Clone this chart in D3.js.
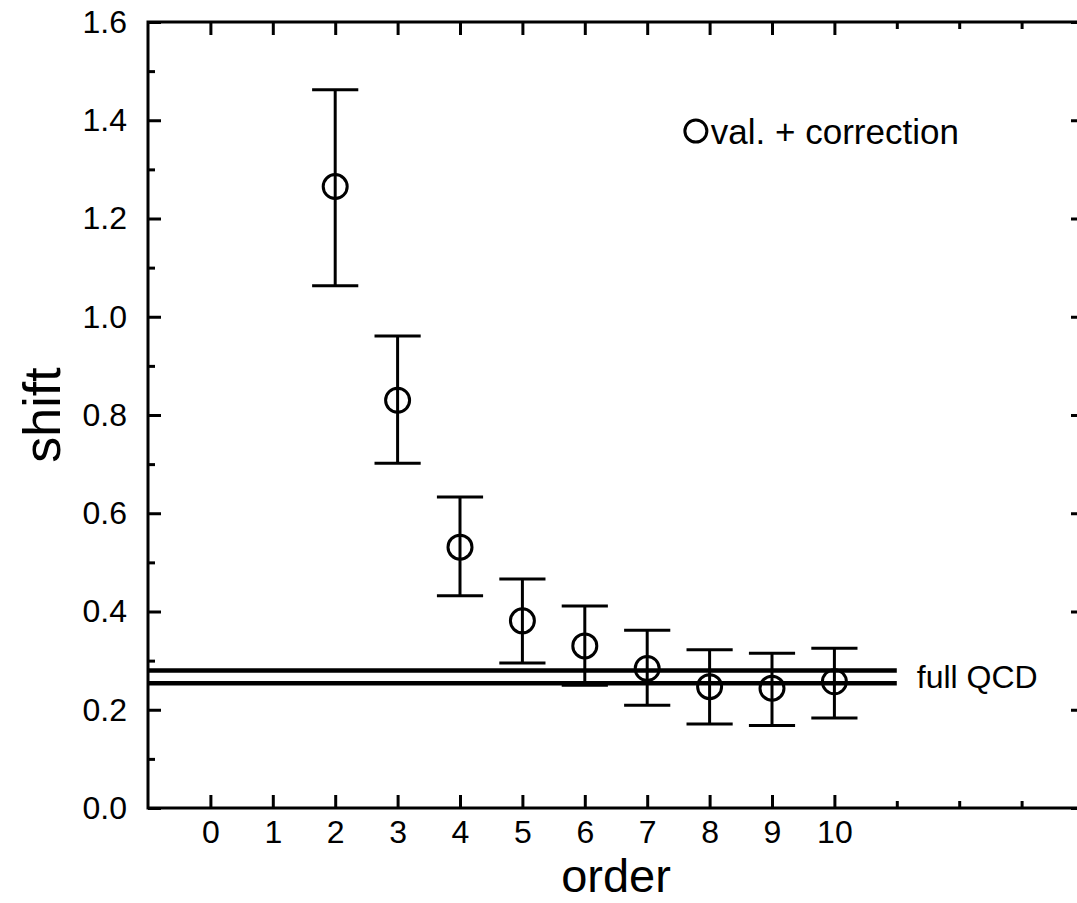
<!DOCTYPE html>
<html>
<head>
<meta charset="utf-8">
<script src="https://cdn.jsdelivr.net/npm/d3@7"></script>
<style>
body { margin: 0; background: white; }
text { font-family: "Liberation Sans", Arial, sans-serif; fill: black; }
</style>
</head>
<body>
<script>
const width = 1077
const height = 903
const margin = {top: 22, left: 148, bottom: 95, right: -7}

// data
const orders = [2, 3, 4, 5, 6, 7, 8, 9, 10]
const shift = [1.265, 0.830, 0.531, 0.381, 0.330, 0.284, 0.247, 0.244, 0.257]
const errLow = [1.063, 0.702, 0.432, 0.295, 0.250, 0.209, 0.171, 0.168, 0.183]
const errHigh = [1.462, 0.961, 0.633, 0.466, 0.411, 0.362, 0.322, 0.315, 0.325]
const qcdLines = [0.254, 0.280]
const qcdRange = [-1, 11]
const xMajor = d3.range(0, 11)
const xMinor = [11, 12, 13]
const yMajor = [0, 0.2, 0.4, 0.6, 0.8, 1.0, 1.2, 1.4, 1.6]
const yMinor = [0.1, 0.3, 0.5, 0.7, 0.9, 1.1, 1.3, 1.5]

const svg = d3.select("body").append("svg")
    .attr("width", width)
    .attr("height", height)

const x = d3.scaleLinear().domain([-1, 14]).range([margin.left, width - margin.right])
const y = d3.scaleLinear().domain([0, 1.6]).range([height - margin.bottom, margin.top])

const majorLen = 13
const minorLen = 7
const tickFont = 32

function styleAxis(g) {
    g.select(".domain").remove()
    g.selectAll("line").attr("stroke", "black").attr("stroke-width", 3)
    g.selectAll("text").attr("font-size", tickFont).attr("fill", "black")
        .attr("font-family", '"Liberation Sans", Arial, sans-serif')
}

// bottom
svg.append("g").attr("transform", `translate(0,${y(0)})`)
    .call(d3.axisBottom(x).tickValues(xMajor).tickSize(-majorLen).tickPadding(12).tickFormat(d3.format("d")))
    .call(styleAxis)
svg.append("g").attr("transform", `translate(0,${y(0)})`)
    .call(d3.axisBottom(x).tickValues(xMinor).tickSize(-minorLen).tickFormat(""))
    .call(styleAxis)
// top
svg.append("g").attr("transform", `translate(0,${y(1.6)})`)
    .call(d3.axisTop(x).tickValues(xMajor).tickSize(-majorLen).tickFormat(""))
    .call(styleAxis)
svg.append("g").attr("transform", `translate(0,${y(1.6)})`)
    .call(d3.axisTop(x).tickValues(xMinor).tickSize(-minorLen).tickFormat(""))
    .call(styleAxis)
// left
svg.append("g").attr("transform", `translate(${x(-1)},0)`)
    .call(d3.axisLeft(y).tickValues(yMajor).tickSize(-majorLen).tickPadding(21).tickFormat(d3.format(".1f")))
    .call(styleAxis)
svg.append("g").attr("transform", `translate(${x(-1)},0)`)
    .call(d3.axisLeft(y).tickValues(yMinor).tickSize(-minorLen).tickFormat(""))
    .call(styleAxis)
// right
svg.append("g").attr("transform", `translate(${x(14)},0)`)
    .call(d3.axisRight(y).tickValues(yMajor).tickSize(-majorLen).tickFormat(""))
    .call(styleAxis)
svg.append("g").attr("transform", `translate(${x(14)},0)`)
    .call(d3.axisRight(y).tickValues(yMinor).tickSize(-minorLen).tickFormat(""))
    .call(styleAxis)

// frame
svg.append("rect")
    .attr("x", x(-1)).attr("y", y(1.6))
    .attr("width", x(14) - x(-1)).attr("height", y(0) - y(1.6))
    .attr("fill", "none").attr("stroke", "black").attr("stroke-width", 3)

// full QCD band lines
svg.selectAll("line.qcd").data(qcdLines).enter()
    .append("line")
    .attr("class", "qcd")
    .attr("x1", x(qcdRange[0])).attr("x2", x(qcdRange[1]))
    .attr("y1", d => y(d)).attr("y2", d => y(d))
    .attr("stroke", "black").attr("stroke-width", 4.5)

svg.append("text")
    .attr("x", x(qcdRange[1]) + 20)
    .attr("y", y(d3.mean(qcdLines)))
    .attr("dy", "0.35em")
    .attr("font-size", 32)
    .text("full QCD")

// error bars
const pts = orders.map((o, i) => ({o, v: shift[i], lo: errLow[i], hi: errHigh[i]}))
const capHalf = 0.37
const bars = svg.selectAll("g.bar").data(pts).enter().append("g").attr("class", "bar")
    .attr("stroke", "black").attr("stroke-width", 3).attr("fill", "none")
bars.append("line")
    .attr("x1", d => x(d.o)).attr("x2", d => x(d.o))
    .attr("y1", d => y(d.lo)).attr("y2", d => y(d.hi))
bars.append("line")
    .attr("x1", d => x(d.o - capHalf)).attr("x2", d => x(d.o + capHalf))
    .attr("y1", d => y(d.hi)).attr("y2", d => y(d.hi))
bars.append("line")
    .attr("x1", d => x(d.o - capHalf)).attr("x2", d => x(d.o + capHalf))
    .attr("y1", d => y(d.lo)).attr("y2", d => y(d.lo))
bars.append("circle")
    .attr("cx", d => x(d.o)).attr("cy", d => y(d.v))
    .attr("r", 12)

// legend
const legend = svg.append("g").attr("transform", `translate(${x(7.78)},${y(1.378)})`)
legend.append("circle").attr("r", 11).attr("fill", "none").attr("stroke", "black").attr("stroke-width", 3)
legend.append("text").attr("x", 15).attr("dy", "0.36em").attr("font-size", 35).text("val. + correction")

// axis titles
svg.append("text")
    .attr("x", (x(-1) + x(14)) / 2)
    .attr("y", 892)
    .attr("text-anchor", "middle")
    .attr("font-size", 47)
    .text("order")
svg.append("text")
    .attr("transform", `translate(60,${(y(0) + y(1.6)) / 2}) rotate(-90)`)
    .attr("text-anchor", "middle")
    .attr("font-size", 52)
    .text("shift")
</script>
</body>
</html>
